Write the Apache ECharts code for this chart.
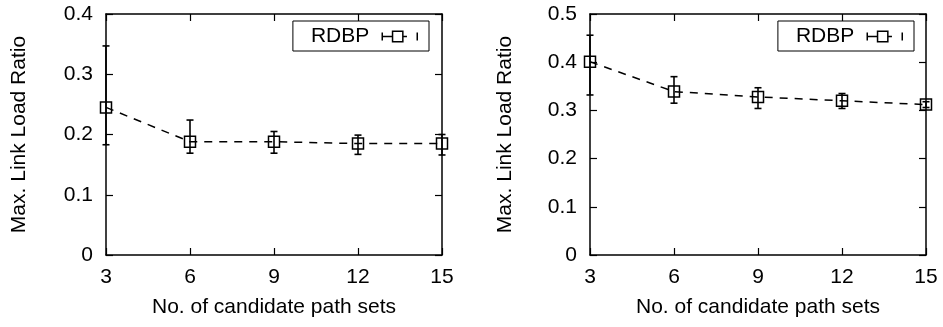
<!DOCTYPE html>
<html>
<head>
<meta charset="utf-8">
<script src="https://cdn.jsdelivr.net/npm/echarts@6/dist/echarts.min.js"></script>
<style>html,body{margin:0;padding:0;background:#fff}#c{width:943px;height:327px}</style>
</head>
<body>
<div id="c"></div>
<script>
const categories = [3, 6, 9, 12, 15];
const leftMean = [0.245, 0.188, 0.188, 0.185, 0.185];
const leftLow  = [0.183, 0.169, 0.169, 0.167, 0.166];
const leftHigh = [0.347, 0.224, 0.205, 0.199, 0.200];
const rightMean = [0.401, 0.339, 0.328, 0.320, 0.312];
const rightLow  = [0.332, 0.315, 0.304, 0.304, 0.306];
const rightHigh = [0.456, 0.370, 0.347, 0.335, 0.318];
const leftYTicks = [0, 0.4, 0.1];
const rightYTicks = [0, 0.5, 0.1];
const xTicks = [3, 15, 3];
const seriesName = 'RDBP';
const xTitle = 'No. of candidate path sets';
const yTitle = 'Max. Link Load Ratio';

const FONT = 'Liberation Sans';
const FS = 21;
const axisColor = '#000';

function pairs(xs, ys) { return xs.map((x, i) => [x, ys[i]]); }
function triples(xs, lo, hi) { return xs.map((x, i) => [x, lo[i], hi[i]]); }

const grids = [
  {left: 106, top: 14, width: 336, height: 241},
  {left: 590, top: 14, width: 336, height: 241}
];

function xAxes(gi) {
  const base = {type: 'value', gridIndex: gi, min: xTicks[0], max: xTicks[1], interval: xTicks[2],
    axisLine: {show: true, onZero: false, lineStyle: {color: axisColor, width: 1.5}},
    axisTick: {show: true, inside: true, length: 7, lineStyle: {color: axisColor, width: 1.2}},
    splitLine: {show: false}};
  return [
    Object.assign({}, base, {position: 'bottom',
      axisLabel: {show: true, color: '#000', fontFamily: FONT, fontSize: FS, margin: 12},
      name: xTitle, nameLocation: 'middle', nameGap: 42,
      nameTextStyle: {color: '#000', fontFamily: FONT, fontSize: FS}}),
    Object.assign({}, base, {position: 'top', axisLabel: {show: false}})
  ];
}
function yAxes(gi, t, gap) {
  const base = {type: 'value', gridIndex: gi, min: t[0], max: t[1], interval: t[2],
    axisLine: {show: true, onZero: false, lineStyle: {color: axisColor, width: 1.5}},
    axisTick: {show: true, inside: true, length: 7, lineStyle: {color: axisColor, width: 1.2}},
    splitLine: {show: false}};
  return [
    Object.assign({}, base, {position: 'left',
      axisLabel: {show: true, color: '#000', fontFamily: FONT, fontSize: FS, margin: 13},
      name: yTitle, nameLocation: 'middle', nameGap: gap,
      nameTextStyle: {color: '#000', fontFamily: FONT, fontSize: FS}}),
    Object.assign({}, base, {position: 'right', axisLabel: {show: false}})
  ];
}

function errRender(params, api) {
  const x = api.value(0), lo = api.value(1), hi = api.value(2);
  const a = api.coord([x, lo]), b = api.coord([x, hi]);
  const w = 3.5;
  const st = {stroke: '#000', lineWidth: 1.6, fill: null};
  return {type: 'group', children: [
    {type: 'line', shape: {x1: a[0], y1: a[1], x2: b[0], y2: b[1]}, style: st},
    {type: 'line', shape: {x1: a[0] - w, y1: a[1], x2: a[0] + w, y2: a[1]}, style: st},
    {type: 'line', shape: {x1: b[0] - w, y1: b[1], x2: b[0] + w, y2: b[1]}, style: st}
  ]};
}

function lineSeries(xi, yi, data) {
  return {name: seriesName, type: 'line', xAxisIndex: xi, yAxisIndex: yi, data: data,
    symbol: 'rect', symbolSize: 11, showAllSymbol: true,
    lineStyle: {color: '#000', width: 1.5, type: [8, 7]},
    itemStyle: {color: 'rgba(0,0,0,0)', borderColor: '#000', borderWidth: 1.5},
    animation: false, z: 3};
}
function errSeries(xi, yi, data) {
  return {name: seriesName + ' err', type: 'custom', xAxisIndex: xi, yAxisIndex: yi, data: data,
    renderItem: errRender, animation: false, z: 2, clip: false};
}

const legendIcon = 'path://M0,2 L0,10 M0,6 L10,6 M10,1 L20,1 L20,11 L10,11 Z M20,6 L24,6 M34,2 L34,10';
function legend(right) {
  return {data: [seriesName], top: 21, right: right, orient: 'horizontal', align: 'right',
    selectedMode: false,
    backgroundColor: '#fff', borderColor: '#000', borderWidth: 1, borderRadius: 0,
    padding: [5, 11, 4, 18], itemWidth: 35, itemHeight: 12,
    icon: legendIcon,
    itemStyle: {color: 'rgba(0,0,0,0)', borderColor: '#000', borderWidth: 1.5},
    lineStyle: {width: 0, color: 'rgba(0,0,0,0)'},
    textStyle: {color: '#000', fontFamily: FONT, fontSize: FS, padding: [0, 8, 0, 0]}};
}

const chart = echarts.init(document.getElementById('c'), null, {renderer: 'canvas'});
chart.setOption({
  backgroundColor: '#fff',
  animation: false,
  grid: grids,
  legend: [legend(943 - 429), legend(943 - 914)],
  xAxis: [...xAxes(0), ...xAxes(1)],
  yAxis: [...yAxes(0, leftYTicks, 76), ...yAxes(1, rightYTicks, 74)],
  series: [
    errSeries(0, 0, triples(categories, leftLow, leftHigh)),
    lineSeries(0, 0, pairs(categories, leftMean)),
    errSeries(2, 2, triples(categories, rightLow, rightHigh)),
    lineSeries(2, 2, pairs(categories, rightMean))
  ]
});
</script>
</body>
</html>
